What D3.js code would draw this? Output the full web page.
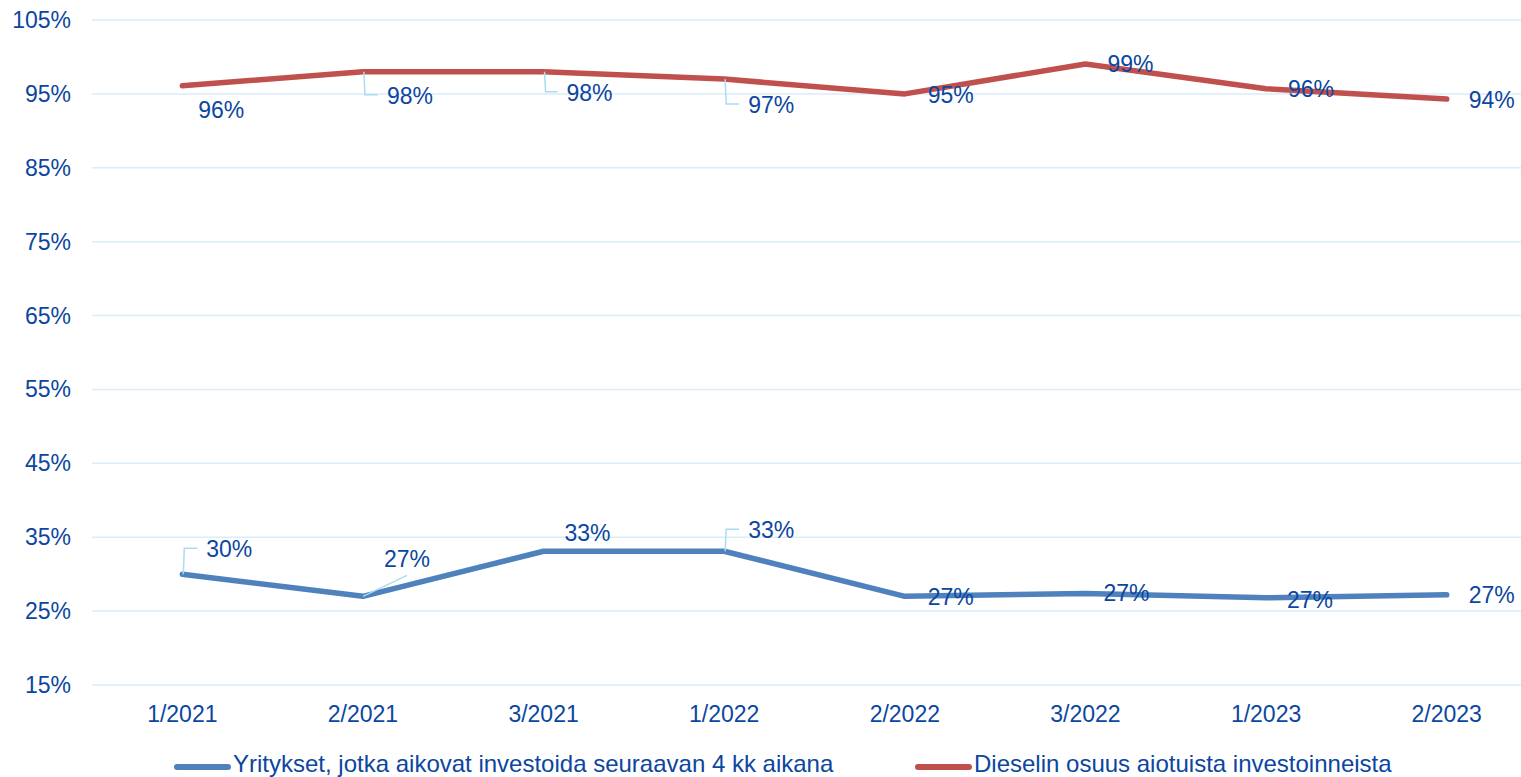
<!DOCTYPE html>
<html>
<head>
<meta charset="utf-8">
<script src="https://cdn.jsdelivr.net/npm/d3@7"></script>
<style>
  body { margin: 0; background: #fff; }
  svg { display: block; font-family: "Liberation Sans", Arial, sans-serif; }
</style>
</head>
<body>
<script>
var categories = ["1/2021", "2/2021", "3/2021", "1/2022", "2/2022", "3/2022", "1/2023", "2/2023"]
var investing = [30, 27, 33.1, 33.1, 27, 27.4, 26.8, 27.2]
var diesel = [96.1, 98, 98, 97, 95, 99.05, 95.7, 94.3]
var investingLabels = ["30%", "27%", "33%", "33%", "27%", "27%", "27%", "27%"]
var dieselLabels = ["96%", "98%", "98%", "97%", "95%", "99%", "96%", "94%"]
var yTicks = [15, 25, 35, 45, 55, 65, 75, 85, 95, 105]
var seriesNames = ["Yritykset, jotka aikovat investoida seuraavan 4 kk aikana", "Dieselin osuus aiotuista investoinneista"]

// label placement: offset of the text centre from the point, and leader type
var dieselPlace = [[39, 24, null], [47, 24, "elbow"], [46, 21, "elbow"], [47, 26, "elbow"], [46, 1, null], [45, 0, null], [45, 0, null], [45, 1, null]]
var investPlace = [[47, -25, "elbow"], [44, -37, "diag"], [44, -18, null], [47, -21, "elbow"], [46, 1, null], [41, 0, null], [44, 2, null], [45, 0, null]]

var width = 1521, height = 777
var textColor = "#0b46a0"

var svg = d3.select("body").append("svg")
  .attr("width", width)
  .attr("height", height)

var x = d3.scalePoint().domain(categories).range([92, 1537]).padding(0.5)
var y = d3.scaleLinear().domain([15, 105]).range([685, 20])

// gridlines
svg.append("g").selectAll("line")
  .data(yTicks)
  .enter().append("line")
  .attr("x1", 92).attr("x2", width)
  .attr("y1", function(d) { return y(d) }).attr("y2", function(d) { return y(d) })
  .attr("stroke", "#dcedf8").attr("stroke-width", 1.5)

// y labels
svg.append("g").selectAll("text")
  .data(yTicks)
  .enter().append("text")
  .attr("x", 71)
  .attr("y", function(d) { return y(d) + 8 })
  .attr("text-anchor", "end")
  .attr("font-size", "23px")
  .attr("fill", textColor)
  .text(function(d) { return d + "%" })

// x labels
svg.append("g").selectAll("text")
  .data(categories)
  .enter().append("text")
  .attr("x", function(d) { return x(d) })
  .attr("y", 722)
  .attr("text-anchor", "middle")
  .attr("font-size", "23px")
  .attr("fill", textColor)
  .text(function(d) { return d })

var line = d3.line()
  .x(function(d, i) { return x(categories[i]) })
  .y(function(d) { return y(d) })

function drawSeries(values, color) {
  svg.append("path")
    .datum(values)
    .attr("d", line)
    .attr("fill", "none")
    .attr("stroke", color)
    .attr("stroke-width", 5.5)
    .attr("stroke-linejoin", "round")
    .attr("stroke-linecap", "round")
}

function drawLabels(values, labels, place) {
  var g = svg.append("g")
  values.forEach(function(v, i) {
    var px = x(categories[i]), py = y(v)
    var p = place[i]
    var tx = px + p[0], ty = py + p[1]
    if (p[2] == "elbow") {
      var ly = ty - 1
      g.append("path")
        .attr("d", "M" + (px + 1) + "," + py + "L" + (px + 2) + "," + ly + "L" + (tx - 32) + "," + ly)
        .attr("fill", "none").attr("stroke", "#a9dcf2").attr("stroke-width", 1.5)
    } else if (p[2] == "diag") {
      g.append("path")
        .attr("d", "M" + px + "," + py + "L" + tx + "," + (ty + 16))
        .attr("fill", "none").attr("stroke", "#a9dcf2").attr("stroke-width", 1.5)
    }
    g.append("text")
      .attr("x", tx)
      .attr("y", ty + 8)
      .attr("text-anchor", "middle")
      .attr("font-size", "23px")
      .attr("fill", textColor)
      .text(labels[i])
  })
}

drawSeries(diesel, "#c0504d")
drawSeries(investing, "#4f81bd")
drawLabels(diesel, dieselLabels, dieselPlace)
drawLabels(investing, investingLabels, investPlace)

// legend
var legend = [
  { name: seriesNames[0], color: "#4f81bd", x: 177 },
  { name: seriesNames[1], color: "#c0504d", x: 918 }
]
legend.forEach(function(l) {
  svg.append("line")
    .attr("x1", l.x).attr("x2", l.x + 51)
    .attr("y1", 767).attr("y2", 767)
    .attr("stroke", l.color).attr("stroke-width", 6)
    .attr("stroke-linecap", "round")
  svg.append("text")
    .attr("x", l.x + 56)
    .attr("y", 772)
    .attr("font-size", "24px")
    .attr("fill", textColor)
    .text(l.name)
})
</script>
</body>
</html>
